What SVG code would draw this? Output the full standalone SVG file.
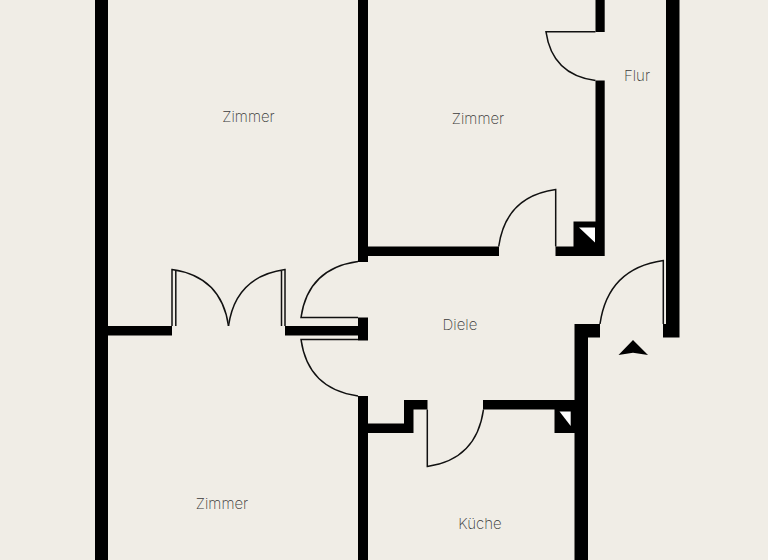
<svg xmlns="http://www.w3.org/2000/svg" width="768" height="560" viewBox="0 0 768 560">
<style>
.w{fill:#000}
.d{fill:none;stroke:#111;stroke-width:1.5}
.h{fill:#fff}
text{font-family:"Inter","Liberation Sans",sans-serif;font-size:15px;fill:#3a3a3a;text-anchor:middle;font-weight:200}
</style>
<rect width="768" height="560" fill="#f0ede6"/>
<g id="walls">
<path class="w" d="M95 0H108V326H172V335.5H108V560H95Z"/>
<path class="w" d="M358 0H368V246.5H499V256H368V262H358Z"/>
<path class="w" d="M285 326H358V317.5H368V340.5H358V335.5H285Z"/>
<path class="w" d="M358 396H368V423.5H404V400H427.5V409.5H413.5V433H368V560H358Z"/>
<path class="w" d="M483 400H574.5V324H600V337.5H588V560H574.5V433H554.5V409.5H483Z"/>
<path class="w" d="M595.5 0H604.7V32H595.5Z"/>
<path class="w" d="M595.5 80.5H604.7V256H555.5V246.5H573.5V221.5H595.5Z"/>
<path class="w" d="M666 0H679.5V337.5H663V324H666Z"/>
</g>
<g id="shafts">
<path class="h" d="M579 227.5H595V242.5Z"/>
<path class="h" d="M559.5 411.5H570.7V426Z"/>
</g>
<g id="doors">
<path id="door-double-left" class="d" d="M172 326V269.500C205.300 274.200 223.800 292.700 228.500 326M175.800 326V269.800"/>
<path id="door-double-right" class="d" d="M285 326V269.500C251.700 274.200 233.200 292.700 228.500 326M281.500 326V269.800"/>
<path id="door-west-upper" class="d" d="M358 261.500C324.400 266.100 305.700 284.500 301 317.500H358"/>
<path id="door-west-lower" class="d" d="M358 396C324.400 391.300 305.700 372.800 301 339.500H358"/>
<path id="door-kitchen" class="d" d="M427.300 409.500V466.500C460.400 461.800 478.800 443.100 483.500 409.500"/>
<path id="door-room" class="d" d="M555.700 246.500V189.500C522.100 194.200 503.400 212.900 498.700 246.500"/>
<path id="door-flur" class="d" d="M595.500 31.800H546C550.100 60.500 566.300 76.500 595.500 80.500"/>
<path id="door-entry" class="d" d="M663.300 324V260.500C626 265.800 605.300 286.600 600 324"/>
</g>
<path id="entry-arrow" d="M633 340L648 355L633 352.700L618.500 355Z" fill="#000"/>
<g id="labels">
<text x="248.500" y="122">Zimmer</text>
<text x="478" y="124">Zimmer</text>
<text x="637" y="81">Flur</text>
<text x="460" y="330">Diele</text>
<text x="222" y="509">Zimmer</text>
<text x="480" y="529">Küche</text>
</g>
</svg>
